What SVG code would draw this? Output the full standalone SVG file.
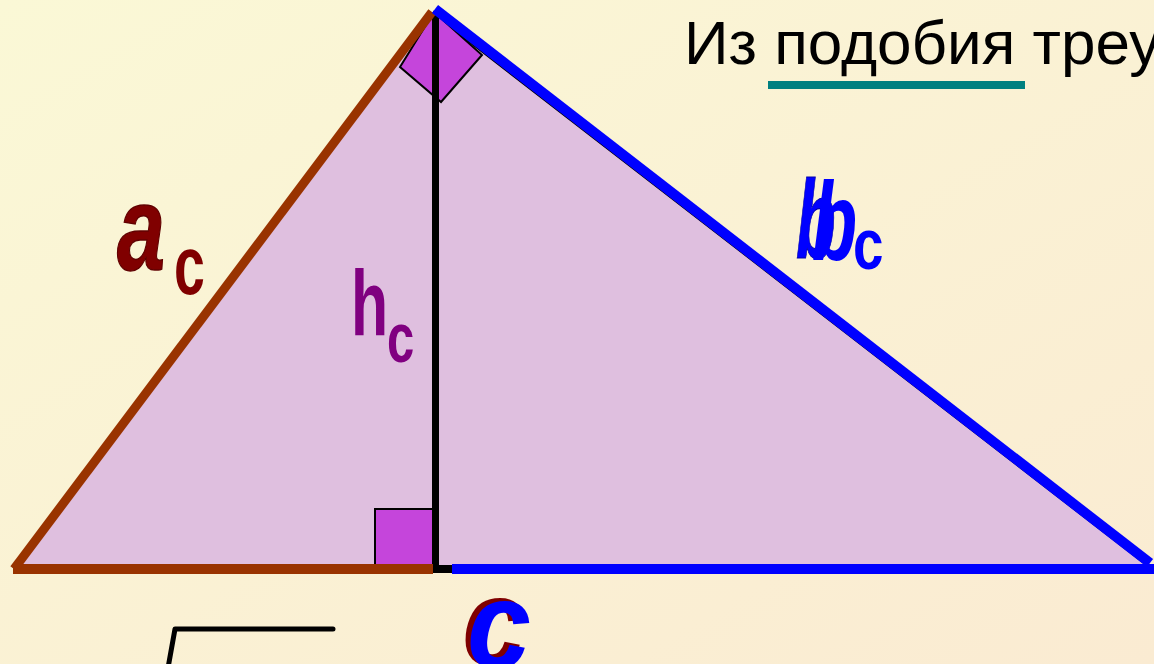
<svg xmlns="http://www.w3.org/2000/svg" width="1154" height="664" viewBox="0 0 1154 664">
<defs>
<linearGradient id="bg" x1="0" y1="0" x2="1" y2="1">
<stop offset="0" stop-color="#FAF8D6"/>
<stop offset="1" stop-color="#FAEBD2"/>
</linearGradient>
</defs>
<style>
.lbl{font-family:"Liberation Sans",Arial,sans-serif;font-weight:bold}
.it{font-style:italic}
.sq{fill:#C545DB;stroke:#000;stroke-width:2}
</style>
<rect width="1154" height="664" fill="url(#bg)"/>
<g id="triangle">
<polygon points="14,567 433,14 1146,565" fill="#DFBFDF" stroke="#000" stroke-width="1.5"/>
</g>
<g id="right-angle-top">
<polygon class="sq" points="434,12 400,67 441,102 482,55"/>
</g>
<g id="right-angle-bottom">
<rect class="sq" x="375" y="509" width="58" height="56"/>
</g>
<g id="connectors" stroke-linecap="butt" fill="none">
<line x1="435.5" y1="14" x2="435.5" y2="569" stroke="#000" stroke-width="7"/>
<line x1="433" y1="569" x2="452" y2="569" stroke="#000" stroke-width="8"/>
<line x1="13" y1="569" x2="433" y2="569" stroke="#993300" stroke-width="10"/>
<line x1="452" y1="569" x2="1154" y2="569" stroke="#0000FF" stroke-width="10"/>
<line x1="14" y1="569" x2="432" y2="12" stroke="#993300" stroke-width="9"/>
<line x1="435" y1="9" x2="1150" y2="563" stroke="#0000FF" stroke-width="10"/>
</g>
<g id="label-ac">
<text class="lbl it" transform="translate(117,270) scale(0.72,1)" font-size="120" fill="#800000" stroke="#600000" stroke-width="1.5">a</text>
<text class="lbl" transform="translate(174,294) scale(0.66,1)" font-size="84" fill="#800000">c</text>
</g>
<g id="label-hc">
<text class="lbl" transform="translate(351,335) scale(0.66,1)" font-size="92" fill="#800080">h</text>
<text class="lbl" transform="translate(387,362) scale(0.7,1)" font-size="70" fill="#800080">c</text>
</g>
<g id="label-bc">
<text class="lbl it" transform="translate(796,258) scale(0.58,1)" font-size="112" fill="#0000FF" stroke="#0000AA" stroke-width="1">b</text>
<text class="lbl it" transform="translate(812,260) scale(0.66,1)" font-size="112" fill="#0000FF">b</text>
<text class="lbl" transform="translate(853,269) scale(0.75,1)" font-size="73" fill="#0000FF">c</text>
</g>
<g id="label-c">
<text class="lbl it" transform="translate(462,665) scale(0.92,1)" font-size="125" fill="#800000">c</text>
<text class="lbl it" transform="translate(467,668) scale(0.92,1)" font-size="125" fill="#0000FF">c</text>
</g>
<g id="title">
<text x="684" y="64" font-family="Liberation Sans,Arial,sans-serif" font-size="62" fill="#000">Из подобия треу</text>
<rect x="768" y="81" width="257" height="8" fill="#008080"/>
</g>
<g id="sqrt">
<polyline points="168,668 175,629 333,629" fill="none" stroke="#000" stroke-width="5" stroke-linecap="round" stroke-linejoin="round"/>
</g>
</svg>
